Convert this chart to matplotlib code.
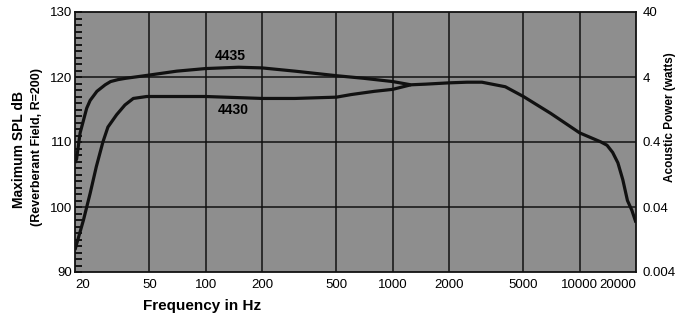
import matplotlib
matplotlib.use("Agg")
import matplotlib.pyplot as plt
from matplotlib.ticker import FixedLocator, NullFormatter, NullLocator

plt.rcParams['font.family'] = ['Liberation Sans', 'DejaVu Sans']

# ---- data ----
freq_4435 = [20, 20.4, 21.3, 23.1, 24.1, 26.2, 29, 31, 34, 37.3, 42, 50, 70, 100, 150, 200,
             300, 500, 700, 1000, 1250, 1500, 2000, 2500, 3000, 4000, 5000, 7000,
             10000, 13000, 14000, 15000, 16000, 17000, 18000, 19000, 20000]
spl_4435 = [106.8, 107.4, 111.4, 115.2, 116.4, 117.8, 118.8, 119.3, 119.6, 119.8, 120.0, 120.3,
            120.9, 121.3, 121.5, 121.4, 120.9, 120.2, 119.8, 119.3, 118.8, 118.9, 119.1,
            119.2, 119.2, 118.5, 117.0, 114.4, 111.4, 110.0, 109.5, 108.4, 106.8, 104.2,
            101.0, 99.5, 97.6]
freq_4430 = [20, 20.4, 22.2, 24.1, 26, 28.2, 30, 33.4, 37, 41, 48.4, 50, 100, 200, 300, 500,
             600, 800, 1000, 1250]
spl_4430 = [93.4, 94.3, 98.0, 102.1, 106.2, 110.0, 112.3, 114.2, 115.7, 116.7, 117.0, 117.0,
            117.0, 116.7, 116.7, 116.9, 117.3, 117.8, 118.1, 118.8]

x_ticks = [20, 50, 100, 200, 500, 1000, 2000, 5000, 10000, 20000]
x_labels = ['20', '50', '100', '200', '500', '1000', '2000', '5000', '10000', '20000']
y_ticks = [90, 100, 110, 120, 130]
power_ticks = [0.004, 0.04, 0.4, 4, 40]
power_labels = ['0.004', '0.04', '0.4', '4', '40']

# ---- figure ----
fig = plt.figure(figsize=(6.91, 3.13), dpi=100)
fig.patch.set_facecolor('white')
ax = fig.add_axes([75/691, 41/313, 561/691, 260/313])
ax.set_facecolor('#8e8e8e')

ax.set_xscale('log')
ax.set_xlim(20, 20000)
ax.set_ylim(90, 130)

ax.plot(freq_4435, spl_4435, color='#111111', lw=2.3, solid_capstyle='butt', zorder=3)
ax.plot(freq_4430, spl_4430, color='#111111', lw=2.3, solid_capstyle='butt', zorder=3)

# grid
for f in x_ticks[1:-1]:
    ax.axvline(f, color='#111111', lw=1.1, zorder=2)
for y in [100, 110, 120]:
    ax.axhline(y, color='#111111', lw=1.1, zorder=2)

ax.xaxis.set_major_locator(FixedLocator(x_ticks))
ax.xaxis.set_minor_locator(NullLocator())
ax.set_xticklabels(x_labels)
ax.tick_params(axis='x', length=0, pad=5, labelsize=9.5)
for lab in ax.get_xticklabels():
    if lab.get_text() == '20':
        lab.set_horizontalalignment('left')
    elif lab.get_text() == '20000':
        lab.set_horizontalalignment('right')

ax.yaxis.set_major_locator(FixedLocator(y_ticks))
ax.yaxis.set_minor_locator(FixedLocator(list(range(91, 130))))
ax.yaxis.set_minor_formatter(NullFormatter())
ax.tick_params(axis='y', which='major', direction='in', length=5, width=1.2, pad=2, labelsize=9.5)
ax.tick_params(axis='y', which='minor', direction='in', length=5, width=1.2)

for s in ax.spines.values():
    s.set_linewidth(1.3)
    s.set_color('#111111')

ax.set_xlabel('Frequency in Hz', fontsize=11, fontweight='bold')
ax.xaxis.set_label_coords(0.226, -0.105)

fig.text(19/691, 1 - 150/313, 'Maximum SPL dB', rotation=90, fontsize=10,
         fontweight='bold', ha='center', va='center')
fig.text(37/691, 1 - 147/313, '(Reverberant Field, R=200)', rotation=90, fontsize=9,
         fontweight='bold', ha='center', va='center')

ax2 = ax.twinx()
ax2.set_yscale('log')
ax2.set_ylim(0.004, 40)
ax2.yaxis.set_major_locator(FixedLocator(power_ticks))
ax2.yaxis.set_minor_locator(NullLocator())
ax2.set_yticklabels(power_labels)
ax2.tick_params(axis='y', length=0, pad=5, labelsize=9.5)
for s in ax2.spines.values():
    s.set_visible(False)
fig.text(670/691, 1 - 117/313, 'Acoustic Power (watts)', rotation=90, fontsize=8.5,
         fontweight='bold', ha='center', va='center')

ax.text(135, 123.3, '4435', fontsize=10, fontweight='bold', ha='center', va='center', zorder=4)
ax.text(140, 115.0, '4430', fontsize=10, fontweight='bold', ha='center', va='center', zorder=4)

fig.savefig('out.png', dpi=100)
